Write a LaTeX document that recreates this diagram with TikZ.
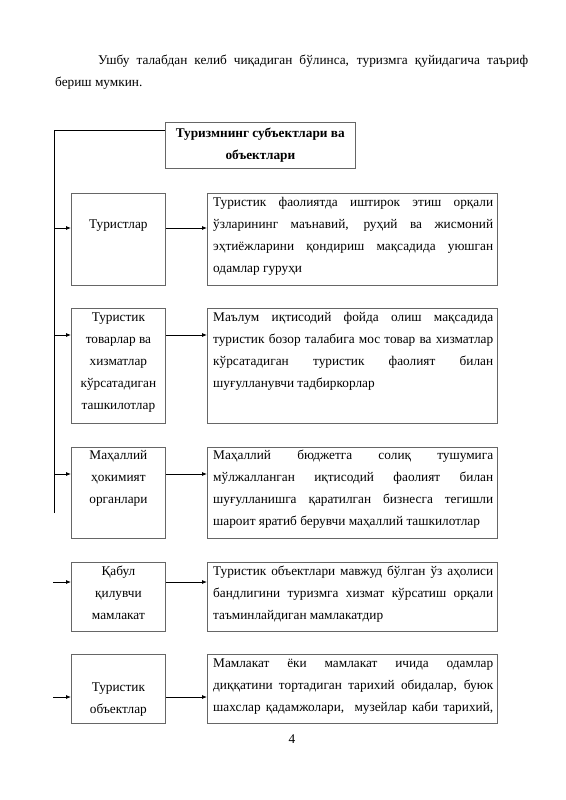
\documentclass[tikz,border=0pt]{standalone}
\usepackage{fontspec}
\setmainfont{Liberation Serif}
\usetikzlibrary{arrows.meta,calc}
\newcommand{\jl}[1]{\makebox[\linewidth][s]{#1}}
\begin{document}
\begin{tikzpicture}[x=1pt,y=-1pt,
  box/.style={draw=black!60,line width=0.8pt,inner sep=0,anchor=north west},
  txt/.style={inner sep=0,anchor=base west,font=\fontsize{13.3}{22}\selectfont},
  ctxt/.style={inner sep=0,anchor=base,font=\fontsize{13.3}{22}\selectfont},
  conn/.style={line width=0.8pt,-{Latex[length=5pt,width=4pt]}},
  line/.style={line width=0.8pt}
]
\useasboundingbox[fill=white] (0,0) rectangle (565,800);

% paragraph
\node[txt] (para) at (55,65) {\parbox[t]{473pt}{\leavevmode\hspace*{43pt}\makebox[430pt][s]{Ушбу талабдан келиб чиқадиган бўлинса, туризмга қуйидагича таъриф}\\[-1pt]бериш мумкин.}};

% title
\node[box,minimum width=190pt,minimum height=46pt] (title) at (165,122) {};
\node[ctxt,font=\fontsize{13.3}{22}\selectfont\bfseries] (titletxt) at ($(title.north)+(0,15)$) {\parbox[t]{190pt}{\centering Туризмнинг субъектлари ва\\объектлари}};

% boxes
\node[box,minimum width=94pt,minimum height=92pt] (l1) at (71,193) {};
\node[box,minimum width=290pt,minimum height=92pt] (r1) at (207,193) {};
\node[box,minimum width=94pt,minimum height=115pt] (l2) at (71,308) {};
\node[box,minimum width=290pt,minimum height=115pt] (r2) at (207,308) {};
\node[box,minimum width=94pt,minimum height=91pt] (l3) at (71,447) {};
\node[box,minimum width=290pt,minimum height=91pt] (r3) at (207,447) {};
\node[box,minimum width=94pt,minimum height=69pt] (l4) at (71,562) {};
\node[box,minimum width=290pt,minimum height=69pt] (r4) at (207,562) {};
\node[box,minimum width=94pt,minimum height=69pt] (l5) at (71,654) {};
\node[box,minimum width=290pt,minimum height=69pt] (r5) at (207,654) {};

% left texts
\node[ctxt] (lt1) at ($(l1.north)+(0,35)$) {Туристлар};
\node[ctxt] (lt2) at ($(l2.north)+(0,13)$) {\parbox[t]{94pt}{\centering Туристик\\товарлар ва\\хизматлар\\кўрсатадиган\\ташкилотлар}};
\node[ctxt] (lt3) at ($(l3.north)+(0,12)$) {\parbox[t]{94pt}{\centering Маҳаллий\\ҳокимият\\органлари}};
\node[ctxt] (lt4) at ($(l4.north)+(0,13)$) {\parbox[t]{94pt}{\centering Қабул\\қилувчи\\мамлакат}};
\node[ctxt] (lt5) at ($(l5.north)+(0,37)$) {\parbox[t]{94pt}{\centering Туристик\\объектлар}};

% right texts
\node[txt] (rt1) at ($(r1.north west)+(6,13)$) {\parbox[t]{280pt}{\jl{Туристик фаолиятда иштирок этиш орқали}\\\jl{ўзларининг маънавий, руҳий ва жисмоний}\\\jl{эҳтиёжларини қондириш мақсадида уюшган}\\одамлар гуруҳи}};
\node[txt] (rt2) at ($(r2.north west)+(6,13)$) {\parbox[t]{280pt}{\jl{Маълум иқтисодий фойда олиш мақсадида}\\\jl{туристик бозор талабига мос товар ва хизматлар}\\\jl{кўрсатадиган туристик фаолият билан}\\шуғулланувчи тадбиркорлар}};
\node[txt] (rt3) at ($(r3.north west)+(6,12)$) {\parbox[t]{280pt}{\jl{Маҳаллий бюджетга солиқ тушумига}\\\jl{мўлжалланган иқтисодий фаолият билан}\\\jl{шуғулланишга қаратилган бизнесга тегишли}\\шароит яратиб берувчи маҳаллий ташкилотлар}};
\node[txt] (rt4) at ($(r4.north west)+(6,13)$) {\parbox[t]{280pt}{\jl{Туристик объектлари мавжуд бўлган ўз аҳолиси}\\\jl{бандлигини туризмга хизмат кўрсатиш орқали}\\таъминлайдиган мамлакатдир}};
\node[txt] (rt5) at ($(r5.north west)+(6,13)$) {\parbox[t]{280pt}{\jl{Мамлакат ёки мамлакат ичида одамлар}\\\jl{диққатини тортадиган тарихий обидалар, буюк}\\\jl{шахслар қадамжолари,\ \ музейлар каби тарихий,}}};

% page number
\node[ctxt] (pg) at (292,743) {4};

% connectors
\coordinate (vt) at (54,130);
\coordinate (vb) at (54,513);
\draw[line] (vb) -- (vt) -- (vt -| title.west);

\coordinate (a1) at (54,228);
\coordinate (a2) at (54,335);
\coordinate (a3) at (54,474);
\coordinate (a4) at (53,582);
\coordinate (a5) at (53,697);
\foreach \i in {1,...,5}{
  \draw[conn] (a\i) -- (a\i -| l\i.west);
  \draw[conn] (a\i -| l\i.east) -- (a\i -| r\i.west);
}
\end{tikzpicture}
\end{document}
